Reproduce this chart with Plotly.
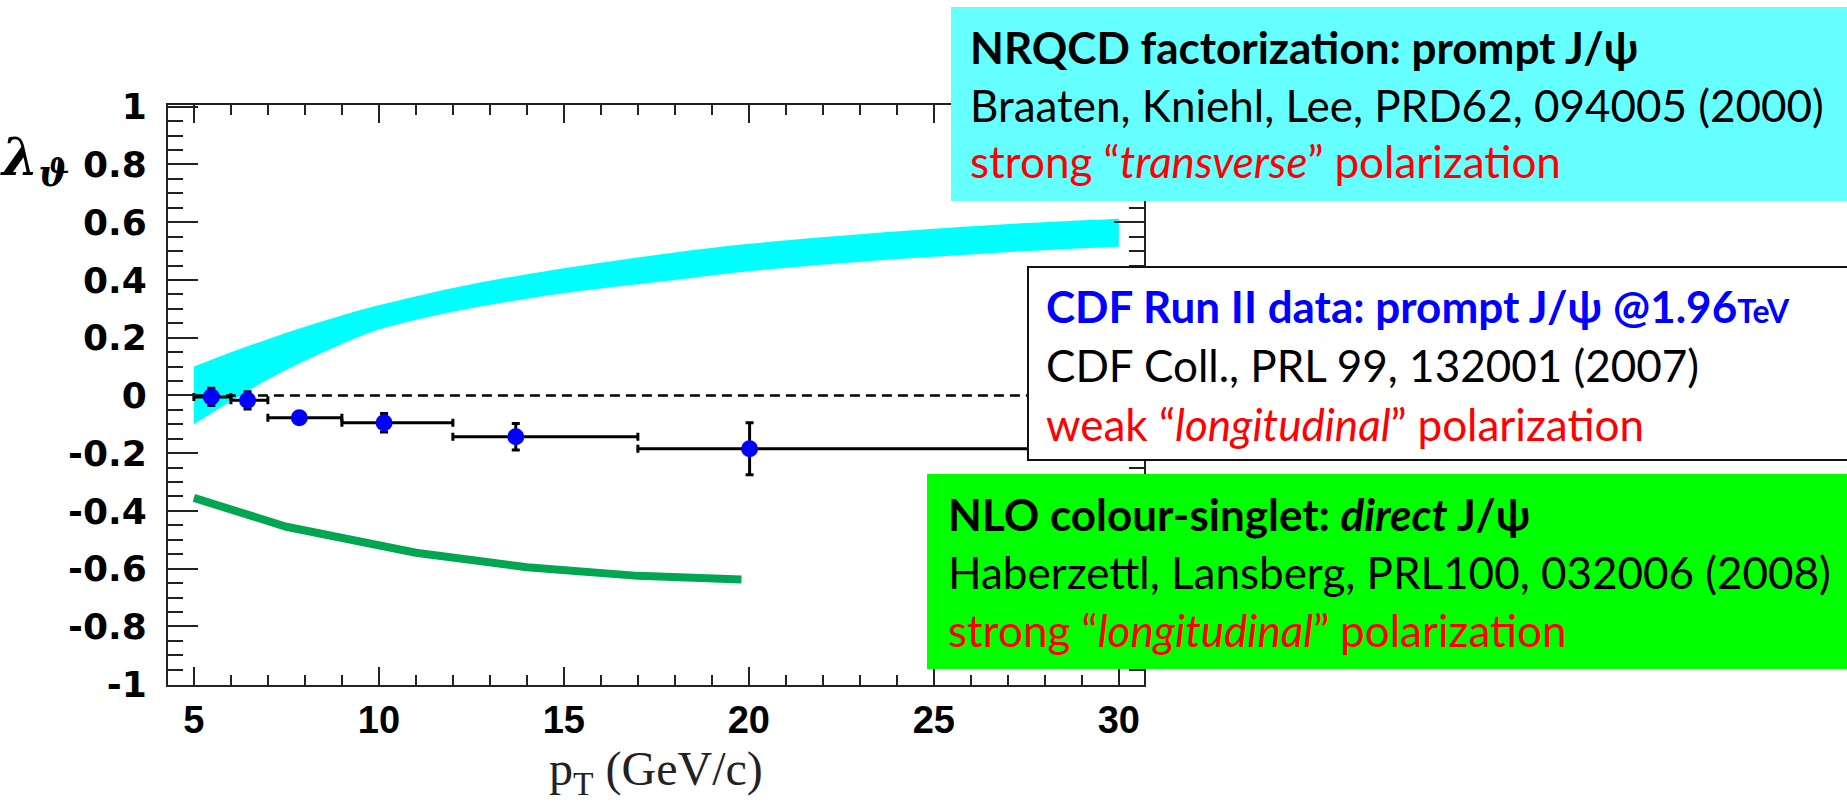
import plotly.graph_objects as go

# ---------------- data ----------------
band_pt = [5, 6, 7, 8, 9, 10, 12, 14, 16, 18, 20, 22.5, 25, 27.5, 30]
band_hi = [0.100, 0.150, 0.195, 0.238, 0.277, 0.312, 0.372, 0.420, 0.460, 0.495, 0.525, 0.553, 0.577, 0.597, 0.612]
band_lo = [-0.100, -0.020, 0.055, 0.120, 0.178, 0.228, 0.290, 0.335, 0.370, 0.400, 0.430, 0.458, 0.480, 0.500, 0.515]

cs_pt = [5, 7.5, 11, 14, 17, 19.8]
cs_lam = [-0.355, -0.455, -0.545, -0.595, -0.625, -0.638]

cdf_pt = [5.47, 6.45, 7.85, 10.14, 13.70, 20.02]
cdf_lam = [-0.005, -0.017, -0.077, -0.095, -0.143, -0.185]
cdf_pt_lo = [5, 6, 7, 9, 12, 17]
cdf_pt_hi = [6, 7, 9, 12, 17, 30]
cdf_err = [0.030, 0.030, 0.015, 0.032, 0.046, 0.090]

zero_pt = [5, 30]
zero_lam = [0, 0]

y_tickvals = [-1, -0.8, -0.6, -0.4, -0.2, 0, 0.2, 0.4, 0.6, 0.8, 1]
y_ticktext = ["-1", "-0.8", "-0.6", "-0.4", "-0.2", "0", "0.2", "0.4", "0.6", "0.8", "1"]
x_tickvals = [5, 10, 15, 20, 25, 30]
x_ticktext = ["5", "10", "15", "20", "25", "30"]

# ---------------- geometry helpers ----------------
W, H = 1847, 809
PL, PR, PT, PB = 168, 1144, 105, 685


def px(x):
    return (x - PL) / (PR - PL)


def py(y):
    return (PB - y) / (PB - PT)


fig = go.Figure()

# NRQCD band
fig.add_trace(go.Scatter(x=band_pt, y=band_lo, mode="lines", line=dict(width=0, color="#00FFFF", shape="spline"),
                         showlegend=False, hoverinfo="skip"))
fig.add_trace(go.Scatter(x=band_pt, y=band_hi, mode="lines", line=dict(width=0, color="#00FFFF", shape="spline"),
                         fill="tonexty", fillcolor="#00FFFF", showlegend=False))

# zero line
fig.add_trace(go.Scatter(x=zero_pt, y=zero_lam, mode="lines",
                         line=dict(color="black", width=2.5, dash="10px,6px"), showlegend=False))

# NLO CS curve
fig.add_trace(go.Scatter(x=cs_pt, y=cs_lam, mode="lines",
                         line=dict(color="#00A651", width=8), showlegend=False))

# CDF data
fig.add_trace(go.Scatter(
    x=cdf_pt, y=cdf_lam, mode="markers",
    marker=dict(color="#0000FF", size=17, line=dict(width=0)),
    error_x=dict(type="data", symmetric=False,
                 array=[h - c for h, c in zip(cdf_pt_hi, cdf_pt)],
                 arrayminus=[c - l for l, c in zip(cdf_pt_lo, cdf_pt)],
                 color="black", thickness=3, width=4),
    error_y=dict(type="data", array=cdf_err, color="black", thickness=3, width=4),
    showlegend=False))

axcol = "#222222"
fig.update_xaxes(range=[4.30, 30.68], tickmode="array", tickvals=x_tickvals, ticktext=x_ticktext,
                 ticks="inside", ticklen=18, tickwidth=2, tickcolor=axcol,
                 minor=dict(tickmode="linear", tick0=0, dtick=1, ticks="inside", ticklen=10,
                            tickwidth=1.5, tickcolor=axcol, showgrid=False),
                 showline=True, linewidth=2, linecolor=axcol, mirror="ticks",
                 showgrid=False, zeroline=False, ticklabelstandoff=0,
                 tickfont=dict(family="Liberation Sans", size=38, color="black", weight="bold"))
fig.update_yaxes(range=[-1.003, 1.006], tickmode="array", tickvals=y_tickvals, ticktext=y_ticktext,
                 ticks="inside", ticklen=30, tickwidth=2, tickcolor=axcol,
                 minor=dict(tickmode="linear", tick0=0, dtick=0.05, ticks="inside", ticklen=15,
                            tickwidth=1.5, tickcolor=axcol, showgrid=False),
                 showline=True, linewidth=2, linecolor=axcol, mirror="ticks",
                 showgrid=False, zeroline=False, ticklabelstandoff=12,
                 tickfont=dict(family="DejaVu Sans", size=36, color="black", weight="bold"))

# boxes
shapes = [
    dict(type="rect", xref="paper", yref="paper", x0=px(951), x1=px(1860), y0=py(201), y1=py(7),
         fillcolor="#66FFFF", line=dict(width=0), layer="above"),
    dict(type="rect", xref="paper", yref="paper", x0=px(1028), x1=px(1860), y0=py(460), y1=py(267),
         fillcolor="white", line=dict(width=2, color="#111111"), layer="above"),
    dict(type="rect", xref="paper", yref="paper", x0=px(927), x1=px(1860), y0=py(669), y1=py(474),
         fillcolor="#00FF00", line=dict(width=0), layer="above"),
]
fig.update_layout(shapes=shapes)

TF = "Lato"
TS = 44


def label(text, x, y, color="black", size=TS, family=TF):
    fig.add_annotation(text=text, xref="paper", yref="paper", x=px(x), y=py(y),
                       xanchor="left", yanchor="middle", showarrow=False,
                       font=dict(family=family, size=size, color=color))


# NRQCD box
label("<b>NRQCD factorization: prompt J/ψ</b>", 968, 47)
label("Braaten, Kniehl, Lee, PRD62, 094005 (2000)", 968, 105)
label("strong “<i>transverse</i>” polarization", 968, 161, color="#FF0000")
# CDF box
label("<b>CDF Run II data: prompt J/ψ @1.96<span style='font-size:32px'>TeV</span></b>", 1044, 306, color="#0000FF")
label("CDF Coll., PRL 99, 132001 (2007)", 1044, 365)
label("weak “<i>longitudinal</i>” polarization", 1044, 424, color="#FF0000")
# NLO box
label("<b>NLO colour-singlet: <i>direct</i> J/ψ</b>", 946, 514)
label("Haberzettl, Lansberg, PRL100, 032006 (2008)", 946, 572)
label("strong “<i>longitudinal</i>” polarization", 946, 630, color="#FF0000")

# axis titles
fig.add_annotation(text="<b><i>λ</i></b><sub><b><i>ϑ</i></b></sub>", xref="paper", yref="paper",
                   x=px(34), y=py(160), xanchor="center", yanchor="middle", showarrow=False,
                   font=dict(family="DejaVu Serif", size=52, color="black"))
fig.add_annotation(text="p<sub>T</sub> (GeV/c)", xref="paper", yref="paper",
                   x=px(656), y=py(772), xanchor="center", yanchor="middle", showarrow=False,
                   font=dict(family="Liberation Serif", size=48, color="#222222"))

fig.update_layout(width=W, height=H, margin=dict(l=PL, r=W - PR, t=PT, b=H - PB, pad=0),
                  plot_bgcolor="white", paper_bgcolor="white", showlegend=False)

fig.write_html("out.html", config={"displayModeBar": False},
               post_script="document.body.style.margin='0';")
